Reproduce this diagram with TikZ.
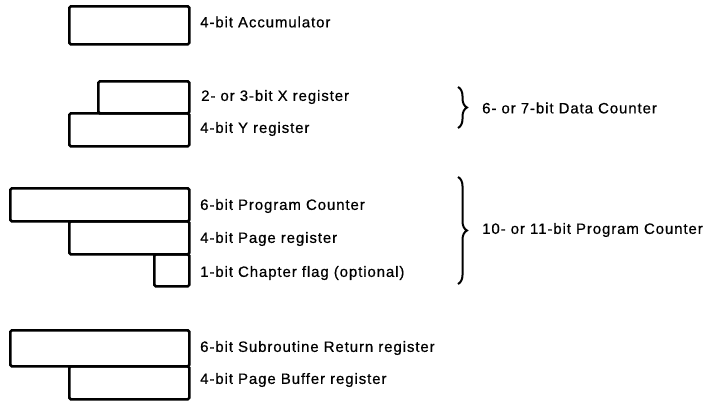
\documentclass[tikz,border=0pt]{standalone}
\usepackage{fontspec}
\setmainfont{Liberation Sans}[LetterSpace=6, FakeBold=0.6]
\usetikzlibrary{decorations.pathreplacing,positioning}

\tikzset{
  reg/.style={draw, line width=2.6pt, rounded corners=1.5pt, inner sep=0pt, anchor=north west},
  lab/.style={anchor=west, inner sep=0pt, font=\fontsize{15}{18}\selectfont},
  brc/.style={decorate, decoration={brace, amplitude=9pt}, line width=2pt}
}

\begin{document}
\begin{tikzpicture}[x=1pt, y=-1pt]

    \useasboundingbox (0,0) rectangle (715,400);

    % registers
    \node[reg, minimum width=120pt, minimum height=38pt] (acc) at (68,5) {};

    \node[reg, minimum width=91pt, minimum height=32pt] (xreg) at (97,80) {};
    \node[reg, minimum width=120pt, minimum height=33pt] (yreg) at (68,112) {};

    \node[reg, minimum width=179pt, minimum height=33pt] (pc) at (9,187) {};
    \node[reg, minimum width=120pt, minimum height=33pt] (page) at (68,220) {};
    \node[reg, minimum width=35pt, minimum height=32pt] (chap) at (153,253) {};

    \node[reg, minimum width=179pt, minimum height=36pt] (sr) at (9,329) {};
    \node[reg, minimum width=120pt, minimum height=33pt] (pb) at (68,365) {};

    % labels
    \node[lab] (acclab) at (200,22) {4-bit Accumulator};
    \node[lab] (xlab) at (201,97) {2- or 3-bit X register};
    \node[lab] (ylab) at (200,129) {4-bit Y register};
    \node[lab] (pclab) at (200,206) {6-bit Program Counter};
    \node[lab] (pagelab) at (200,239) {4-bit Page register};
    \node[lab] (chaplab) at (200,273) {1-bit Chapter flag (optional)};
    \node[lab] (srlab) at (200,348) {6-bit Subroutine Return register};
    \node[lab] (pblab) at (200,380) {4-bit Page Buffer register};

    % braces
    \coordinate (dctop) at (458,87);
    \coordinate (dcbot) at (458,128);
    \coordinate (pctop) at (458,177);
    \coordinate (pcbot) at (458,284);

    \draw[brc] (dctop) to (dcbot);
    \draw[brc] (pctop) to (pcbot);

    \node[lab] (dclab) at (482,108) {6- or 7-bit Data Counter};
    \node[lab] (pcsum) at (482,230) {10- or 11-bit Program Counter};

\end{tikzpicture}
\end{document}
